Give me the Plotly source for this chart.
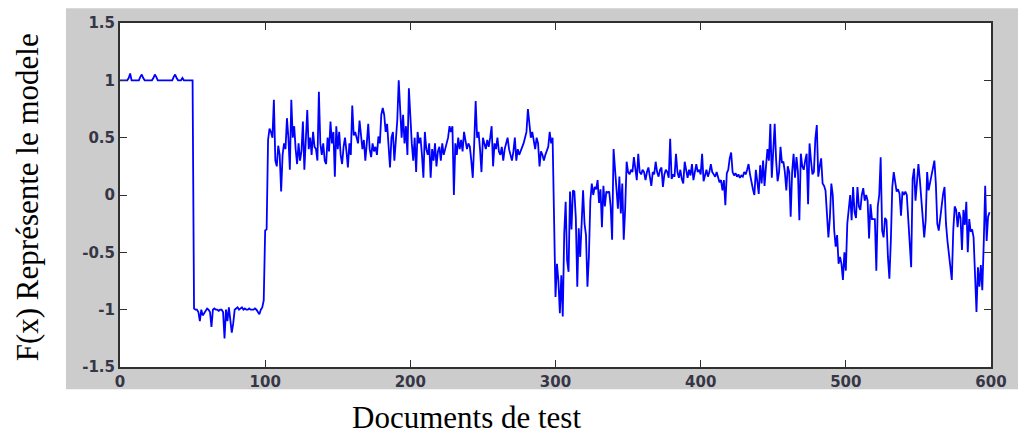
import plotly.graph_objects as go

# ---- data ----
f_seg1 = [  # documents 0-49
    1.0, 1.0, 1.0, 1.0, 1.0, 1.0, 1.02, 1.06, 1.0, 1.0,
    1.0, 1.0, 1.0, 1.0, 1.03, 1.05, 1.02, 1.0, 1.0, 1.0,
    1.0, 1.0, 1.0, 1.02, 1.05, 1.03, 1.0, 1.0, 1.0, 1.0,
    1.0, 1.0, 1.0, 1.0, 1.0, 1.0, 1.0, 1.03, 1.05, 1.02,
    1.0, 1.0, 1.0, 1.02, 1.0, 1.0, 1.0, 1.0, 1.0, 1.0,
]
f_seg2 = [  # documents 50-99
    1.0, -0.99, -1.0, -1.0, -1.02, -1.1, -1.0, -1.05, -1.03, -1.0,
    -0.99, -1.0, -1.02, -1.15, -1.0, -0.99, -1.0, -1.0, -1.01, -1.0,
    -1.0, -1.02, -1.25, -1.0, -1.1, -0.98, -1.08, -1.2, -1.12, -1.0,
    -0.99, -0.98, -1.0, -0.99, -0.98, -1.0, -0.99, -1.0, -1.0, -0.99,
    -1.0, -1.0, -1.0, -0.99, -1.0, -1.02, -1.04, -1.0, -0.98, -0.92,
]
f_seg3 = [  # documents 100-299
    -0.31, -0.3, 0.48, 0.58, 0.55, 0.5, 0.83, 0.3, 0.25, 0.43,
    0.35, 0.03, 0.35, 0.45, 0.4, 0.67, 0.5, 0.22, 0.83, 0.5,
    0.6, 0.4, 0.27, 0.45, 0.3, 0.38, 0.64, 0.22, 0.45, 0.74,
    0.4, 0.5, 0.35, 0.55, 0.42, 0.4, 0.3, 0.9, 0.45, 0.35,
    0.45, 0.3, 0.27, 0.5, 0.38, 0.64, 0.45, 0.55, 0.16, 0.6,
    0.4, 0.55, 0.35, 0.27, 0.42, 0.5, 0.38, 0.24, 0.45, 0.35,
    0.78, 0.52, 0.55, 0.5, 0.45, 0.65, 0.5, 0.4, 0.48, 0.3,
    0.45, 0.62, 0.4, 0.33, 0.45, 0.38, 0.42, 0.35, 0.51, 0.45,
    0.7, 0.76, 0.7, 0.55, 0.62, 0.4, 0.24, 0.5, 0.55, 0.3,
    0.45, 0.65, 1.0, 0.75, 0.5, 0.7, 0.45, 0.6, 0.35, 0.93,
    0.65, 0.45, 0.3, 0.5, 0.2, 0.55, 0.45, 0.5, 0.35, 0.15,
    0.55, 0.4, 0.35, 0.45, 0.15, 0.4, 0.3, 0.45, 0.25, 0.38,
    0.42, 0.3, 0.45, 0.35, 0.4, 0.45, 0.5, 0.6, 0.55, 0.6,
    0.0, 0.45, 0.35, 0.5, 0.4, 0.48, 0.38, 0.55, 0.45, 0.4,
    0.45, 0.42, 0.3, 0.15, 0.45, 0.82, 0.5, 0.55, 0.4, 0.2,
    0.5, 0.45, 0.4, 0.48, 0.42, 0.5, 0.6, 0.25, 0.45, 0.4,
    0.5, 0.38, 0.35, 0.42, 0.3, 0.4, 0.45, 0.5, 0.4, 0.35,
    0.3, 0.38, 0.5, 0.3, 0.4, 0.35, 0.38, 0.42, 0.45, 0.5,
    0.55, 0.75, 0.6, 0.5, 0.55, 0.45, 0.4, 0.5, 0.45, 0.25,
    0.38, 0.35, 0.3, 0.35, 0.38, 0.42, 0.55, 0.45, 0.5, -0.24,
]
f_seg4 = [  # documents 300-599
    -0.89, -0.6, -0.75, -1.03, -0.7, -1.06, -0.34, -0.06, -0.57, -0.67,
    0.03, -0.3, 0.04, 0.03, -0.2, -0.8, -0.29, -0.54, -0.2, 0.04,
    -0.25, -0.35, -0.8, -0.54, -0.05, 0.1, 0.0, 0.07, 0.05, 0.13,
    -0.07, 0.05, -0.28, 0.08, -0.1, 0.03, 0.02, 0.03, -0.1, -0.39,
    0.4, 0.23, 0.1, -0.12, 0.16, -0.16, 0.1, -0.39, -0.12, 0.29,
    0.2, 0.18, 0.22, 0.2, 0.33, 0.2, 0.13, 0.36, 0.2, 0.18,
    0.22, 0.2, 0.13, 0.2, 0.24, 0.16, 0.08, 0.2, 0.18, 0.29,
    0.2, 0.16, 0.22, 0.24, 0.07, 0.18, 0.22, 0.2, 0.15, 0.49,
    0.14, 0.18, 0.16, 0.36, 0.2, 0.15, 0.22, 0.14, 0.1, 0.29,
    0.2, 0.15, 0.22, 0.17, 0.27, 0.13, 0.2, 0.27, 0.2, 0.22,
    0.18, 0.36, 0.12, 0.18, 0.22, 0.16, 0.2, 0.27, 0.2, 0.18,
    0.16, 0.2, 0.14, 0.11, 0.13, 0.04, 0.13, -0.09, 0.19, 0.22,
    0.32, 0.37, 0.2, 0.17, 0.19, 0.16, 0.18, 0.15, 0.17, 0.16,
    0.2, 0.18, 0.22, 0.27, 0.18, 0.1, 0.05, 0.0, 0.22, 0.12,
    0.01, 0.26, 0.1, 0.3, 0.08, 0.25, 0.4, 0.3, 0.62, 0.15,
    0.35, 0.62, 0.3, 0.12, 0.2, 0.42, 0.28, 0.29, 0.2, 0.04,
    0.25, 0.2, -0.19, 0.2, 0.36, 0.15, 0.33, 0.2, -0.22, 0.36,
    0.25, 0.22, 0.3, 0.36, -0.08, 0.45, 0.3, 0.18, 0.2, 0.49,
    0.61, 0.16, 0.25, 0.32, 0.1, 0.08, 0.04, -0.19, -0.37, -0.2,
    0.1, 0.0, -0.31, -0.45, -0.35, -0.6, -0.54, -0.6, -0.74, -0.5,
    -0.66, -0.25, -0.1, 0.0, -0.22, 0.07, -0.15, -0.2, 0.07, -0.1,
    -0.13, 0.0, 0.06, -0.05, 0.0, -0.05, -0.38, -0.08, -0.21, -0.21,
    -0.21, -0.66, -0.1, 0.0, 0.33, -0.31, -0.37, -0.2, -0.22, -0.54,
    -0.73, -0.4, 0.07, 0.2, 0.1, 0.03, 0.05, 0.01, -0.18, 0.03,
    0.0, 0.03, 0.0, -0.22, -0.37, -0.63, 0.14, 0.23, -0.05, 0.1,
    0.27, 0.13, -0.07, -0.2, -0.37, -0.22, 0.2, 0.04, 0.1, 0.15,
    0.24, 0.3, 0.1, -0.25, -0.31, -0.2, -0.13, 0.01, 0.07, -0.25,
    -0.4, -0.51, -0.63, -0.74, -0.31, -0.1, -0.13, -0.28, -0.15, -0.2,
    -0.48, -0.13, -0.26, -0.06, -0.5, -0.21, -0.32, -0.3, -0.37, -0.7,
    -1.02, -0.63, -0.8, -0.61, -0.83, -0.42, 0.08, -0.4, -0.19, -0.15,
]
f_values = f_seg1 + f_seg2 + f_seg3 + f_seg4
documents = list(range(len(f_values)))

x_tick_vals = [0, 100, 200, 300, 400, 500, 600]
x_tick_text = ["0", "100", "200", "300", "400", "500", "600"]
y_tick_vals = [-1.5, -1, -0.5, 0, 0.5, 1, 1.5]
y_tick_text = ["-1.5", "-1", "-0.5", "0", "0.5", "1", "1.5"]

x_title = "Documents de test"
y_title = "F(x) Représente le modele"

# ---- figure ----
W, H = 1018, 434
L, R, T, B = 120, 27.3, 22.7, 67.3
pw, ph = W - L - R, H - T - B

def px_x(p):
    return (p - L) / pw

def px_y(p):
    return (H - B - p) / ph

fig = go.Figure()
fig.add_trace(go.Scatter(
    x=documents, y=f_values, mode="lines",
    line=dict(color="#0000ff", width=1.8),
    hoverinfo="skip", showlegend=False,
))

axis_common = dict(
    showline=True, linecolor="#303030", linewidth=2, mirror="ticks",
    ticks="inside", ticklen=7, tickcolor="#303030", tickwidth=1,
    showgrid=False, zeroline=False,
    tickfont=dict(family="DejaVu Sans, Arial, sans-serif", size=15,
                  color="#363646", weight="bold"),
)

fig.update_layout(
    width=W, height=H,
    margin=dict(l=L, r=R, t=T, b=B, pad=0),
    paper_bgcolor="#ffffff", plot_bgcolor="#ffffff",
    xaxis=dict(range=[0, 600], tickvals=x_tick_vals, ticktext=x_tick_text, **axis_common),
    yaxis=dict(range=[-1.5, 1.5], tickvals=y_tick_vals, ticktext=y_tick_text, **axis_common),
    shapes=[
        dict(type="rect", xref="paper", yref="paper", layer="below",
             x0=px_x(66), x1=px_x(1018), y0=px_y(389), y1=px_y(8),
             fillcolor="#cccccc", line=dict(width=0)),
        dict(type="rect", xref="paper", yref="paper", layer="below",
             x0=0, x1=1, y0=0, y1=1,
             fillcolor="#ffffff", line=dict(width=0)),
    ],
    annotations=[
        dict(text=x_title, xref="paper", yref="paper", x=px_x(466), y=px_y(417),
             xanchor="center", yanchor="middle", showarrow=False,
             font=dict(family="Liberation Serif, Times New Roman, serif", size=31, color="#000000")),
        dict(text=y_title, xref="paper", yref="paper", x=px_x(27), y=px_y(197),
             xanchor="center", yanchor="middle", showarrow=False, textangle=-90,
             font=dict(family="Liberation Serif, Times New Roman, serif", size=31, color="#000000")),
    ],
)

fig.write_html("out.html", config={"displayModeBar": False})
